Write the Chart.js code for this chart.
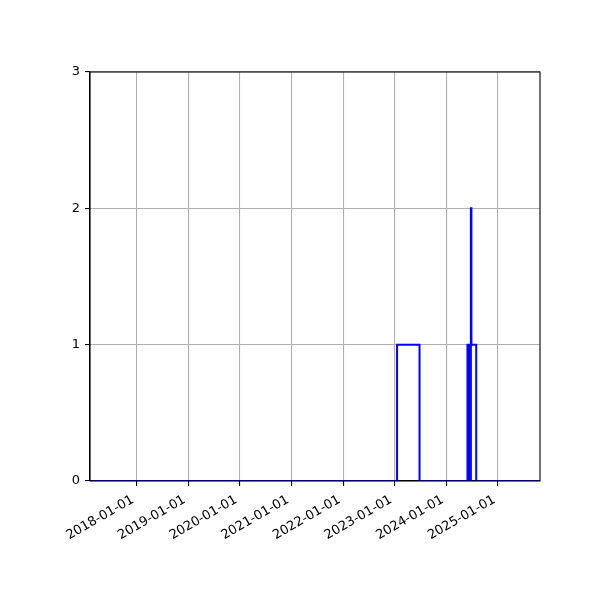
<!DOCTYPE html>
<html>
<head>
<meta charset="UTF-8">
<title>Step chart</title>
<script src="https://cdn.jsdelivr.net/npm/chart.js"></script>
<style>
    html, body { margin: 0; padding: 0; background: #fff; }
</style>
</head>
<body>
<canvas id="stepChart" width="600" height="600"></canvas>
<script>
// values (step-post: value holds until the next date)
const stepDates = [
    '2017-02-06', '2023-01-18', '2023-06-26',
    '2024-05-30', '2024-06-03', '2024-06-07', '2024-06-11', '2024-06-15',
    '2024-06-19', '2024-06-23', '2024-06-27', '2024-07-31', '2025-10-25'
];
const stepCounts = [0, 1, 0, 1, 0, 1, 0, 1, 0, 2, 1, 0, 0];
const xTickLabels = ['2018-01-01', '2019-01-01', '2020-01-01', '2021-01-01',
                     '2022-01-01', '2023-01-01', '2024-01-01', '2025-01-01'];
const yTicks = [0, 1, 2, 3];

const toMs = s => Date.parse(s + 'T00:00:00Z');

// box round the plot area, like the matplotlib frame
const frame = {
    id: 'frame',
    afterDraw(chart) {
        const a = chart.chartArea, c = chart.ctx;
        c.save();
        c.strokeStyle = '#000';
        c.lineWidth = 1.1;
        c.strokeRect(a.left, a.top, a.right - a.left, a.bottom - a.top);
        c.restore();
    }
};

document.addEventListener('DOMContentLoaded', () => {
    const ctx = document.getElementById('stepChart').getContext('2d');
    new Chart(ctx, {
        type: 'line',
        data: {
            datasets: [{
                data: stepDates.map((d, i) => ({ x: toMs(d), y: stepCounts[i] })),
                stepped: 'before',
                borderColor: '#0000ff',
                borderWidth: 2,
                pointRadius: 0,
                fill: false
            }]
        },
        options: {
            responsive: false,
            animation: false,
            devicePixelRatio: 1,
            layout: { padding: { top: 72, right: 60, left: 0, bottom: 0 } },
            plugins: { legend: { display: false }, tooltip: { enabled: false } },
            scales: {
                x: {
                    type: 'linear',
                    min: toMs(stepDates[0]),
                    max: toMs(stepDates[stepDates.length - 1]),
                    afterBuildTicks: s => { s.ticks = xTickLabels.map(t => ({ value: toMs(t) })); },
                    afterFit: s => { s.height = 119; },
                    ticks: {
                        autoSkip: false,
                        minRotation: 30,
                        maxRotation: 30,
                        color: '#000',
                        font: { family: 'DejaVu Sans', size: 13 },
                        padding: 4,
                        // trailing space nudges the rotated label like matplotlib's ha='right'
                        callback: v => new Date(v).toISOString().slice(0, 10) + ' '
                    },
                    grid: { color: '#b0b0b0', lineWidth: 1.1, tickColor: '#000', tickLength: 5 },
                    border: { display: true, color: '#000', width: 1.1 }
                },
                y: {
                    min: yTicks[0],
                    max: yTicks[yTicks.length - 1],
                    afterBuildTicks: s => { s.ticks = yTicks.map(v => ({ value: v })); },
                    afterFit: s => { s.width = 90; },
                    ticks: {
                        color: '#000',
                        font: { family: 'DejaVu Sans', size: 13 },
                        padding: 5
                    },
                    grid: { color: '#b0b0b0', lineWidth: 1.1, tickColor: '#000', tickLength: 5 },
                    border: { display: true, color: '#000', width: 1.1 }
                }
            }
        },
        plugins: [frame]
    });
});
</script>
</body>
</html>
